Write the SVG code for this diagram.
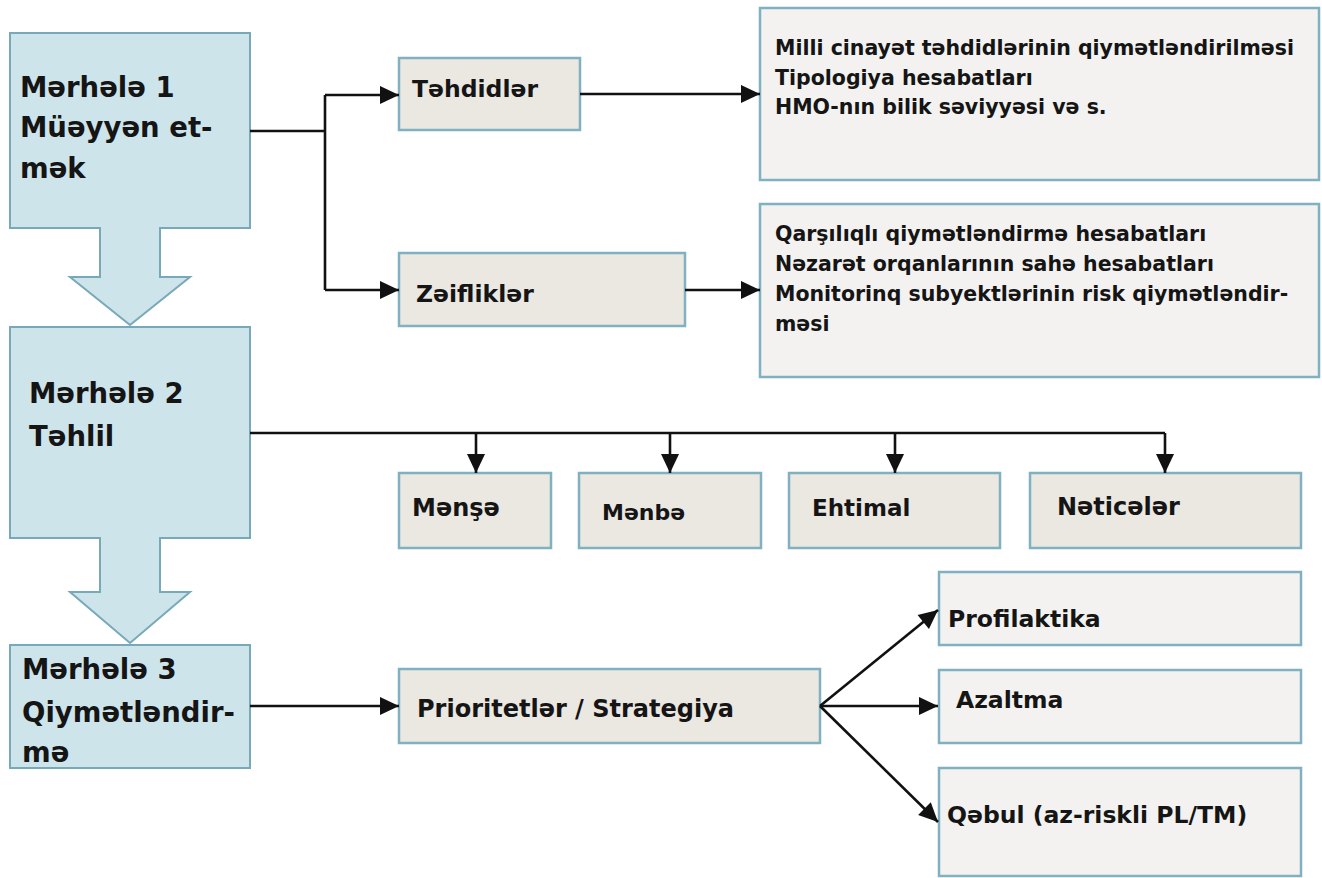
<svg xmlns="http://www.w3.org/2000/svg" width="1322" height="878" viewBox="0 0 1322 878">
<defs>
<style>
.stage{fill:#cee4eb;stroke:#78a9b8;stroke-width:2}
.box{fill:#ebe7e1;stroke:#7fb1c1;stroke-width:2.5}
.big{fill:#f3f2f0;stroke:#7fb1c1;stroke-width:2.5}
.t{font-family:"DejaVu Sans","Liberation Sans",sans-serif;font-weight:bold;fill:#151515}
.st{font-size:27.5px}
.nt{font-size:23.5px}
.lt{font-size:20.5px}
.c{fill:none;stroke:#111;stroke-width:2.6}
</style>
<marker id="ah" viewBox="0 0 20 20" refX="20" refY="10" markerWidth="20" markerHeight="19" markerUnits="userSpaceOnUse" orient="auto">
<path d="M0,0.5 L20,10 L0,19.5 z" fill="#111"/>
</marker>
</defs>
<rect width="1322" height="878" fill="#ffffff"/>

<g id="stage1">
<polygon class="stage" points="10,33 250,33 250,228 160,228 160,277 190,277 130,325 70,277 100,277 100,228 10,228"/>
<text class="t st" x="20" y="97">Mərhələ 1</text>
<text class="t st" x="20" y="137">Müəyyən et-</text>
<text class="t st" x="20" y="178">mək</text>
</g>
<g id="stage2">
<polygon class="stage" points="10,327 250,327 250,538 160,538 160,592 190,592 130,643 70,592 100,592 100,538 10,538"/>
<text class="t st" x="29" y="403">Mərhələ 2</text>
<text class="t st" x="29" y="446">Təhlil</text>
</g>
<g id="stage3">
<rect class="stage" x="10" y="645" width="240" height="123"/>
<text class="t st" x="22" y="679">Mərhələ 3</text>
<text class="t st" x="22" y="722">Qiymətləndir-</text>
<text class="t st" x="22" y="762">mə</text>
</g>

<g id="tehdidler">
<rect class="box" x="399" y="58" width="181" height="72"/>
<text class="t nt" x="412" y="97">Təhdidlər</text>
</g>
<g id="zeiflikler">
<rect class="box" x="399" y="253" width="286" height="73"/>
<text class="t nt" x="416" y="302">Zəifliklər</text>
</g>
<g id="info1">
<rect class="big" x="760" y="8" width="559" height="172"/>
<text class="t lt" x="775" y="55">Milli cinayət təhdidlərinin qiymətləndirilməsi</text>
<text class="t lt" x="775" y="85">Tipologiya hesabatları</text>
<text class="t lt" x="775" y="114">HMO-nın bilik səviyyəsi və s.</text>
</g>
<g id="info2">
<rect class="big" x="760" y="204" width="559" height="173"/>
<text class="t lt" x="775" y="241">Qarşılıqlı qiymətləndirmə hesabatları</text>
<text class="t lt" x="775" y="271">Nəzarət orqanlarının sahə hesabatları</text>
<text class="t lt" x="775" y="301">Monitorinq subyektlərinin risk qiymətləndir-</text>
<text class="t lt" x="775" y="331">məsi</text>
</g>

<g id="mense">
<rect class="box" x="399" y="473" width="152" height="75"/>
<text class="t" x="412" y="516" font-size="24">Mənşə</text>
</g>
<g id="menbe">
<rect class="box" x="579" y="473" width="182" height="75"/>
<text class="t" x="602" y="520" font-size="22">Mənbə</text>
</g>
<g id="ehtimal">
<rect class="box" x="789" y="473" width="211" height="75"/>
<text class="t" x="812" y="516" font-size="23">Ehtimal</text>
</g>
<g id="neticeler">
<rect class="box" x="1030" y="473" width="271" height="75"/>
<text class="t" x="1057" y="515" font-size="24">Nəticələr</text>
</g>

<g id="prioritetler">
<rect class="box" x="399" y="669" width="421" height="74"/>
<text class="t" x="417" y="717" font-size="24">Prioritetlər / Strategiya</text>
</g>
<g id="profilaktika">
<rect class="big" x="939" y="572" width="362" height="73"/>
<text class="t nt" x="948" y="627">Profilaktika</text>
</g>
<g id="azaltma">
<rect class="big" x="939" y="670" width="362" height="73"/>
<text class="t nt" x="956" y="708">Azaltma</text>
</g>
<g id="qebul">
<rect class="big" x="939" y="768" width="362" height="108"/>
<text class="t nt" x="947" y="823">Qəbul (az-riskli PL/TM)</text>
</g>

<g id="connectors">
<path class="c" d="M250,131 H325"/>
<path class="c" d="M325,95 V290"/>
<path class="c" d="M325,95 H399" marker-end="url(#ah)"/>
<path class="c" d="M325,290 H399" marker-end="url(#ah)"/>
<path class="c" d="M580,94 H760" marker-end="url(#ah)"/>
<path class="c" d="M685,290 H760" marker-end="url(#ah)"/>
<path class="c" d="M250,433 H1165"/>
<path class="c" d="M476,433 V473" marker-end="url(#ah)"/>
<path class="c" d="M670,433 V473" marker-end="url(#ah)"/>
<path class="c" d="M895,433 V473" marker-end="url(#ah)"/>
<path class="c" d="M1165,433 V473" marker-end="url(#ah)"/>
<path class="c" d="M250,706 H399" marker-end="url(#ah)"/>
<path class="c" d="M820,706 L938,610" marker-end="url(#ah)"/>
<path class="c" d="M820,706 H938" marker-end="url(#ah)"/>
<path class="c" d="M820,706 L938,822" marker-end="url(#ah)"/>
</g>
</svg>
